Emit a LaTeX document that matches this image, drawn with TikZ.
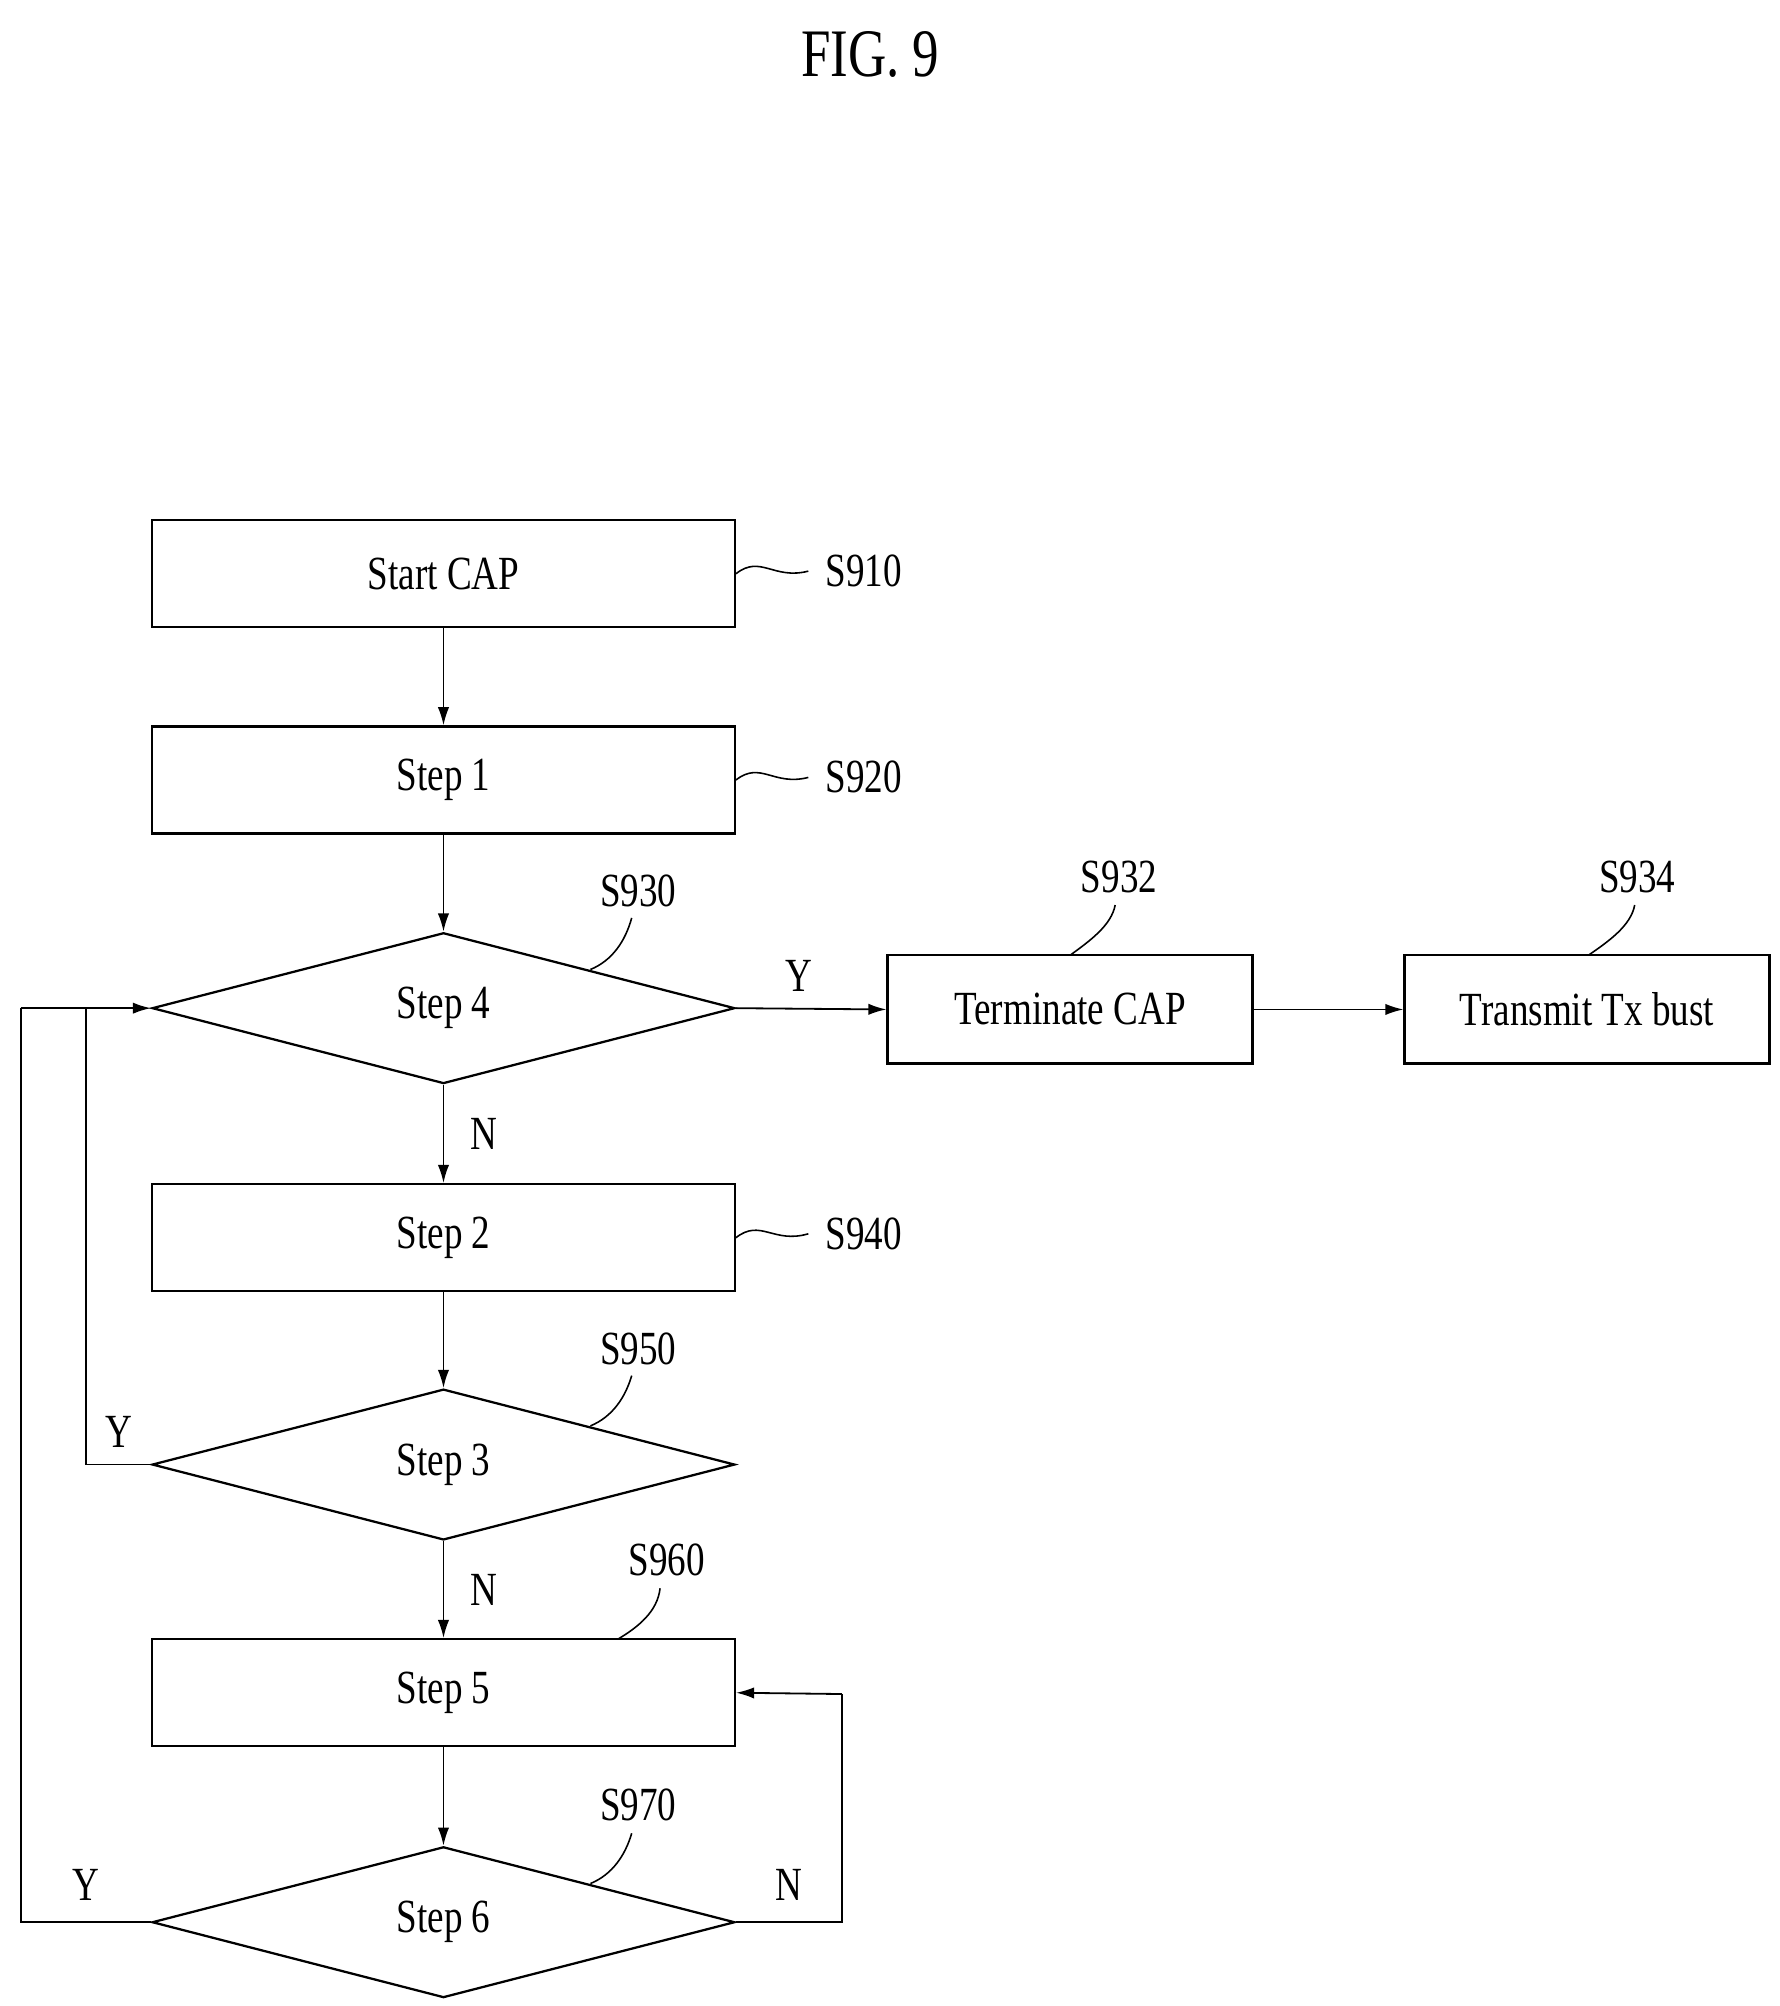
\documentclass[tikz,border=0pt]{standalone}
\usepackage{fontspec}
\setmainfont{Liberation Serif}[FakeStretch=0.78]
\usetikzlibrary{shapes.geometric,arrows.meta}
\begin{document}
\begin{tikzpicture}[x=0.02cm,y=-0.02cm,
  every node/.style={font=\fontsize{21}{24}\selectfont},
  box/.style={draw,line width=1pt,minimum width=452*0.02cm,minimum height=83*0.02cm,inner sep=0pt},
  sbox/.style={draw,line width=1pt,minimum width=283*0.02cm,minimum height=84*0.02cm,inner sep=0pt},
  dia/.style={draw,line width=1pt,diamond,aspect=3.86,minimum width=452*0.02cm,minimum height=117*0.02cm,inner sep=0pt},
  arr/.style={-{Latex[length=8pt,width=5pt]},line width=0.8pt},
  ln/.style={line width=0.8pt},
  lead/.style={line width=0.7pt}]
\useasboundingbox (0,0) rectangle (1380,1556);
\node (title) at (675,42) {\fontsize{30}{34}\selectfont FIG.\ 9};
\node[box] (s910) at (344,445) {Start CAP};
\node[box] (s920) at (344,605) {Step 1};
\node[dia] (s930) at (344,782) {Step 4};
\node[sbox] (s932) at (830,783) {Terminate CAP};
\node[sbox] (s934) at (1231,783) {Transmit Tx bust};
\node[box] (s940) at (344,960) {Step 2};
\node[dia] (s950) at (344,1136) {Step 3};
\node[box] (s960) at (344,1313) {Step 5};
\node[dia] (s970) at (344,1491) {Step 6};
% labels
\node (l910) at (670,443) {S910};
\node (l920) at (670,603) {S920};
\node (l940) at (670,957) {S940};
\node (l930) at (495,691) {S930};
\node (l950) at (495,1046) {S950};
\node (l960) at (517,1210) {S960};
\node (l970) at (495,1400) {S970};
\node (l932) at (868,680) {S932};
\node (l934) at (1270,680) {S934};
\draw[lead] (s910.east) .. controls (590,430) and (600,450) .. (627,443);
\draw[lead] (s920.east) .. controls (590,590) and (600,610) .. (627,603);
\draw[lead] (s940.east) .. controls (590,945) and (600,965) .. (627,957);
\draw[lead] (458,752) .. controls (475,745) and (485,730) .. (490,712);
\draw[lead] (458,1106) .. controls (475,1099) and (485,1084) .. (490,1067);
\draw[lead] (458,1461) .. controls (475,1454) and (485,1439) .. (490,1422);
\draw[lead] (480,1271) .. controls (495,1262) and (510,1250) .. (512,1232);
\draw[lead] (830,741) .. controls (845,730) and (862,718) .. (865,702);
\draw[lead] (1232,741) .. controls (1248,730) and (1265,718) .. (1268,702);
% flow
\draw[arr] (s910) -- (s920);
\draw[arr] (s920) -- (s930);
\draw[arr] (s930.east) -- node[pos=0.42,above=4pt]{Y} (s932.west);
\draw[arr] (s932) -- (s934);
\draw[arr] (s930) -- node[right=8pt]{N} (s940);
\draw[arr] (s940) -- (s950);
\draw[arr] (s950) -- node[right=8pt]{N} (s960);
\draw[arr] (s960) -- (s970);
\coordinate (c1) at (67,1136);
\coordinate (c2) at (67,782);
\draw[ln] (s950.west) -- node[above=4pt,pos=0.5]{Y} (c1) -- (c2);
\coordinate (d1) at (16,1491);
\coordinate (d2) at (16,782);
\draw[ln] (s970.west) -- node[above=6pt,pos=0.5]{Y} (d1) -- (d2);
\draw[arr] (d2) -- (s930.west);
\coordinate (e1) at (653,1491);
\coordinate (e2) at (653,1314);
\draw[ln] (s970.east) -- node[above=6pt,pos=0.5]{N} (e1) -- (e2);
\draw[arr] (e2) -- (s960.east);
\end{tikzpicture}
\end{document}
